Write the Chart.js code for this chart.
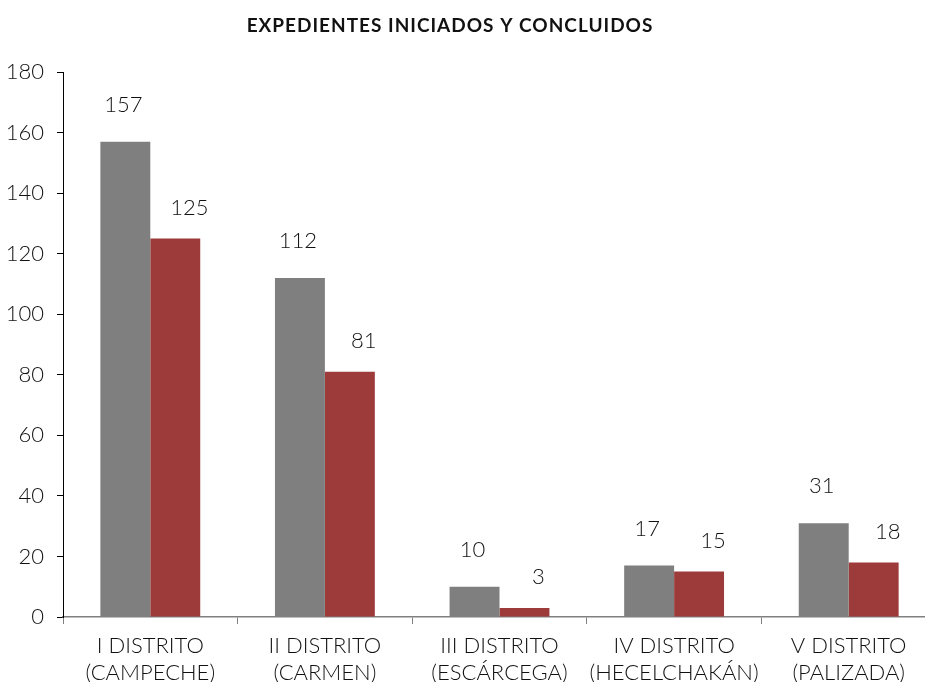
<!DOCTYPE html>
<html>
<head>
<meta charset="utf-8">
<script src="https://cdn.jsdelivr.net/npm/chart.js@4.4.1/dist/chart.umd.min.js"></script>
<style>
  html, body { margin: 0; padding: 0; background: #fff; overflow: hidden; }
  #wrap { width: 940px; height: 682px; }
</style>
</head>
<body>
<div id="wrap"><canvas id="chart" width="940" height="682"></canvas></div>
<script>
// --- data ---
const categories = [
  ['I DISTRITO', '(CAMPECHE)'],
  ['II DISTRITO', '(CARMEN)'],
  ['III DISTRITO', '(ESCÁRCEGA)'],
  ['IV DISTRITO', '(HECELCHAKÁN)'],
  ['V DISTRITO', '(PALIZADA)'],
];
const iniciados = [157, 112, 10, 17, 31];
const concluidos = [125, 81, 3, 15, 18];
const titleText = 'EXPEDIENTES INICIADOS Y CONCLUIDOS';

const FONT = 'Lato, "DejaVu Sans", sans-serif';

// title drawn by hand so it can sit centred on the visible page (canvas is wider)
const pageTitle = {
  id: 'pageTitle',
  afterDraw(chart) {
    const ctx = chart.ctx;
    ctx.save();
    ctx.font = `bold 19px ${FONT}`;
    ctx.letterSpacing = '1px';
    ctx.fillStyle = '#111';
    ctx.textAlign = 'center';
    ctx.textBaseline = 'middle';
    ctx.fillText(titleText, 450, 26);
    ctx.restore();
  }
};

// value labels above the bars (Excel-style, nudged per series)
const valueLabels = {
  id: 'valueLabels',
  afterDatasetsDraw(chart) {
    const ctx = chart.ctx;
    ctx.save();
    ctx.font = `300 22px ${FONT}`;
    ctx.fillStyle = '#111';
    ctx.textAlign = 'center';
    ctx.textBaseline = 'middle';
    chart.data.datasets.forEach((ds, di) => {
      const meta = chart.getDatasetMeta(di);
      const dx = di === 0 ? -2 : 14;
      const dy = di === 0 ? 37 : 31;
      meta.data.forEach((bar, i) => {
        ctx.fillText(String(ds.data[i]), bar.x + dx, bar.y - dy);
      });
    });
    ctx.restore();
  }
};

new Chart(document.getElementById('chart').getContext('2d'), {
  type: 'bar',
  data: {
    labels: categories,
    datasets: [
      { label: 'Iniciados', data: iniciados, backgroundColor: '#7f7f7f', borderWidth: 0 },
      { label: 'Concluidos', data: concluidos, backgroundColor: '#9d3b3a', borderWidth: 0 },
    ],
  },
  options: {
    responsive: false,
    animation: false,
    layout: { padding: { left: 0, right: 4, top: 72, bottom: 0 } },
    categoryPercentage: 0.572,
    barPercentage: 1,
    plugins: {
      legend: { display: false },
      tooltip: { enabled: false },
      title: { display: false },
    },
    scales: {
      x: {
        grid: { display: true, drawOnChartArea: false, tickLength: 7, color: '#808080', offset: true },
        border: { color: '#808080', width: 1.5 },
        ticks: { color: '#111', font: { family: FONT, size: 22, weight: '300', lineHeight: 1.2 }, padding: 9, maxRotation: 0 },
        afterFit(scale) { scale.height = 65; },
      },
      y: {
        min: 0,
        max: 180,
        grid: { display: true, drawOnChartArea: false, tickLength: 6, color: '#000' },
        border: { color: '#000', width: 1 },
        ticks: { stepSize: 20, color: '#111', font: { family: FONT, size: 22, weight: '300' }, padding: 13 },
        afterFit(scale) { scale.width = 63; },
      },
    },
  },
  plugins: [valueLabels, pageTitle],
});
</script>
</body>
</html>
